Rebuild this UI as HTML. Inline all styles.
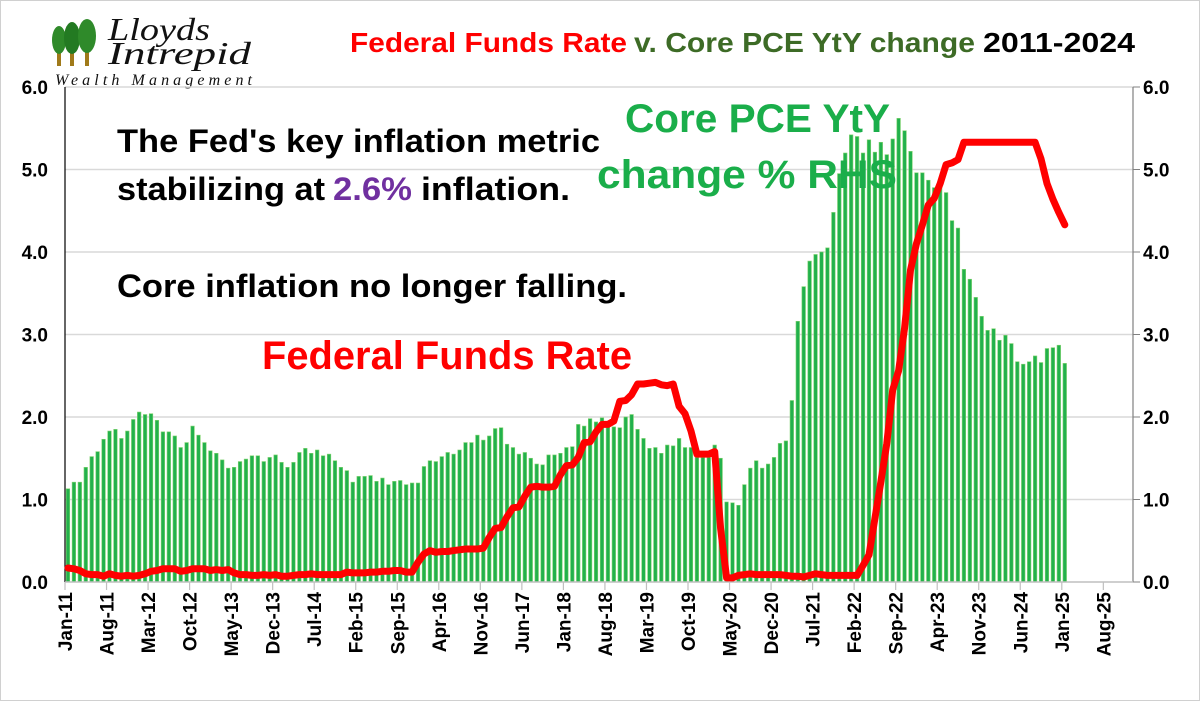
<!DOCTYPE html>
<html><head><meta charset="utf-8"><style>
html,body{margin:0;padding:0;background:#fff;}
svg{display:block;font-family:"Liberation Sans",sans-serif;}
</style></head><body>
<svg id="chart" width="1200" height="701" viewBox="0 0 1200 701">
<rect x="0.5" y="0.5" width="1199" height="700" fill="#fff" stroke="#d0d0d0"/>
<g id="logo">
  <g>
    <rect x="57" y="52" width="4" height="14" fill="#a07a1a"/>
    <rect x="70" y="52" width="4" height="14" fill="#a07a1a"/>
    <rect x="85" y="50" width="4" height="16" fill="#a07a1a"/>
    <ellipse cx="59" cy="40" rx="7" ry="14" fill="#2f8a2a"/>
    <ellipse cx="72" cy="38" rx="8" ry="16" fill="#237a22"/>
    <ellipse cx="87" cy="36" rx="9" ry="17" fill="#2f8a2a"/>
  </g>
  <text x="108" y="40" font-family="Liberation Serif,serif" font-style="italic" font-size="32" fill="#111" textLength="102" lengthAdjust="spacingAndGlyphs">Lloyds</text>
  <text x="108" y="64" font-family="Liberation Serif,serif" font-style="italic" font-size="32" fill="#111" textLength="143" lengthAdjust="spacingAndGlyphs">Intrepid</text>
  <text x="55" y="85" font-family="Liberation Serif,serif" font-style="italic" font-size="16" fill="#111" textLength="197" lengthAdjust="spacing">Wealth Management</text>
</g>
<g>
<text x="350" y="52" font-weight="bold" font-size="28" fill="#ff0000" textLength="277" lengthAdjust="spacingAndGlyphs">Federal Funds Rate</text>
<text x="634" y="52" font-weight="bold" font-size="28" fill="#3d6b26" textLength="341" lengthAdjust="spacingAndGlyphs">v. Core PCE YtY change</text>
<text x="983" y="52" font-weight="bold" font-size="28" fill="#000" textLength="152" lengthAdjust="spacingAndGlyphs">2011-2024</text>
</g>
<g id="grid"></g>
<g id="bars"></g>
<g id="axes"></g>
<g id="ffr"></g>
<text x="117" y="152" font-weight="bold" font-size="32" fill="#000" textLength="483" lengthAdjust="spacingAndGlyphs">The Fed's key inflation metric</text>
<g>
<text x="117" y="200" font-weight="bold" font-size="32" fill="#000" textLength="208" lengthAdjust="spacingAndGlyphs">stabilizing at</text>
<text x="333" y="200" font-weight="bold" font-size="32" fill="#7030a0" textLength="79" lengthAdjust="spacingAndGlyphs">2.6%</text>
<text x="421" y="200" font-weight="bold" font-size="32" fill="#000" textLength="149" lengthAdjust="spacingAndGlyphs">inflation.</text>
</g>
<text x="117" y="297" font-weight="bold" font-size="32" fill="#000" textLength="510" lengthAdjust="spacingAndGlyphs">Core inflation no longer falling.</text>
<text x="262" y="369" font-weight="bold" font-size="40" fill="#ff0000" textLength="370" lengthAdjust="spacingAndGlyphs">Federal Funds Rate</text>
<text x="625" y="132" font-weight="bold" font-size="40" fill="#1aae4a" textLength="265" lengthAdjust="spacingAndGlyphs">Core PCE YtY</text>
<text x="597" y="188" font-weight="bold" font-size="40" fill="#1aae4a" textLength="300" lengthAdjust="spacingAndGlyphs">change % RHS</text>
</svg>
<script>
const pceValues = [
1.13,1.21,1.21,1.39,1.52,1.58,1.73,1.83,1.85,1.74,1.83,1.97,
2.06,2.03,2.04,1.96,1.82,1.82,1.77,1.63,1.69,1.89,1.78,1.69,
1.59,1.56,1.48,1.38,1.39,1.46,1.49,1.53,1.53,1.46,1.51,1.54,
1.45,1.39,1.45,1.57,1.62,1.56,1.60,1.53,1.55,1.47,1.39,1.35,
1.21,1.28,1.28,1.29,1.22,1.26,1.18,1.22,1.23,1.18,1.20,1.20,
1.40,1.47,1.46,1.52,1.57,1.55,1.60,1.69,1.69,1.78,1.72,1.77,
1.86,1.87,1.67,1.63,1.55,1.57,1.50,1.43,1.42,1.54,1.54,1.56,
1.63,1.64,1.91,1.89,1.98,1.94,1.99,1.88,1.88,1.87,2.00,2.03,
1.85,1.74,1.62,1.63,1.56,1.66,1.65,1.74,1.63,1.63,1.51,1.51,
1.51,1.66,1.50,0.97,0.96,0.93,1.18,1.38,1.47,1.38,1.43,1.51,
1.68,1.71,2.20,3.16,3.58,3.89,3.97,4.00,4.05,4.48,4.95,5.20,
5.42,5.40,5.20,5.36,5.21,5.33,5.18,5.37,5.62,5.47,5.22,4.96,
4.96,4.87,4.78,4.84,4.72,4.38,4.29,3.79,3.67,3.45,3.22,3.05,
3.07,2.93,2.99,2.89,2.67,2.64,2.67,2.74,2.66,2.83,2.84,2.87,
2.65];
const ffrValues = [
.17,.16,.14,.10,.09,.09,.07,.10,.08,.07,.08,.07,
.08,.10,.13,.14,.16,.16,.16,.13,.14,.16,.16,.16,
.14,.15,.14,.15,.11,.09,.09,.08,.08,.09,.08,.09,
.07,.07,.08,.09,.09,.10,.09,.09,.09,.09,.09,.12,
.11,.11,.11,.12,.12,.13,.13,.14,.14,.12,.12,.24,
.34,.38,.36,.37,.37,.38,.39,.40,.40,.40,.41,.54,
.65,.66,.79,.90,.91,1.04,1.15,1.16,1.15,1.15,1.16,1.30,
1.41,1.42,1.51,1.69,1.70,1.82,1.91,1.91,1.95,2.19,2.20,2.27,
2.40,2.40,2.41,2.42,2.39,2.38,2.40,2.13,2.04,1.83,1.55,1.55,
1.55,1.58,0.65,0.05,0.05,0.08,0.09,0.10,0.09,0.09,0.09,0.09,
.09,.08,.07,.07,.06,.08,.10,.09,.08,.08,.08,.08,
.08,.08,.20,.33,.77,1.21,1.68,2.33,2.56,3.08,3.78,4.10,
4.33,4.57,4.65,4.83,5.06,5.08,5.12,5.33,5.33,5.33,5.33,5.33,
5.33,5.33,5.33,5.33,5.33,5.33,5.33,5.33,5.13,4.83,4.64,4.48,
4.33];
const xTickLabels = ["Jan-11","Aug-11","Mar-12","Oct-12","May-13","Dec-13","Jul-14","Feb-15","Sep-15","Apr-16","Nov-16","Jun-17","Jan-18","Aug-18","Mar-19","Oct-19","May-20","Dec-20","Jul-21","Feb-22","Sep-22","Apr-23","Nov-23","Jun-24","Jan-25","Aug-25"];
const yTickLabels = ["0.0","1.0","2.0","3.0","4.0","5.0","6.0"];

const NS = "http://www.w3.org/2000/svg";
const X0 = 65, X1 = 1133, MONTHS = 180, Y0 = 582, YTOP = 87, YMAX = 6;
const xScale = m => X0 + (X1 - X0) * m / MONTHS;
const yScale = v => Y0 - (Y0 - YTOP) * v / YMAX;
function mk(tag, attrs, parent) {
  const e = document.createElementNS(NS, tag);
  for (const k in attrs) e.setAttribute(k, attrs[k]);
  parent.appendChild(e);
  return e;
}
const grid = document.getElementById('grid');
const axes = document.getElementById('axes');
yTickLabels.forEach((lab, i) => {
  const v = parseFloat(lab), y = yScale(v);
  if (i > 0) {
    const gl = mk('line', {x1: X0, x2: X1, y1: y, y2: y, stroke: '#d9d9d9', 'stroke-width': 1.5}, grid);
    
    
  }
  const tl = mk('text', {x: 48, y: y + 7, 'text-anchor': 'end', 'font-size': 19, 'font-weight': 'bold', fill: '#000'}, axes);
  tl.textContent = lab;
  
  
  const tr = mk('text', {x: 1143, y: y + 7, 'font-size': 19, 'font-weight': 'bold', fill: '#000'}, axes);
  tr.textContent = lab;
  
  
  const rt = mk('line', {x1: X1, x2: X1 + 7, y1: y, y2: y, stroke: '#808080', 'stroke-width': 1}, axes);
  
  
});
const barsG = document.getElementById('bars');
const step = (X1 - X0) / MONTHS;
pceValues.forEach((v, i) => {
  const x = xScale(i + 0.5);
  const b = mk('rect', {x: x - step * 0.3, y: yScale(v), width: step * 0.6, height: Y0 - yScale(v), fill: '#22b14c', stroke: '#7fd36e', 'stroke-width': 0.6}, barsG);
  
  
});
const la = mk('line', {x1: X0, x2: X0, y1: YTOP, y2: Y0, stroke: '#000', 'stroke-width': 1.2}, axes);


const ra = mk('line', {x1: X1, x2: X1, y1: YTOP, y2: Y0, stroke: '#808080', 'stroke-width': 1.2}, axes);


const ba = mk('line', {x1: X0, x2: X1, y1: Y0, y2: Y0, stroke: '#bfbfbf', 'stroke-width': 1.5}, axes);


xTickLabels.forEach((lab, i) => {
  const x = xScale(i * 7);
  const t = mk('line', {x1: x, x2: x, y1: Y0, y2: Y0 + 8, stroke: '#bfbfbf', 'stroke-width': 1.2}, axes);
  
  
  const tx = mk('text', {x: 0, y: 0, 'text-anchor': 'end', 'font-size': 19, 'font-weight': 'bold', fill: '#000', transform: `translate(${x + 7},${Y0 + 10}) rotate(-90)`}, axes);
  tx.textContent = lab;
  
  
});
const pts = ffrValues.map((v, i) => `${xScale(i + 0.5).toFixed(1)},${yScale(v).toFixed(1)}`).join(' ');
const line = mk('polyline', {points: pts, fill: 'none', stroke: '#ff0000', 'stroke-width': 7, 'stroke-linejoin': 'round', 'stroke-linecap': 'round'}, document.getElementById('ffr'));


</script>
</body></html>
